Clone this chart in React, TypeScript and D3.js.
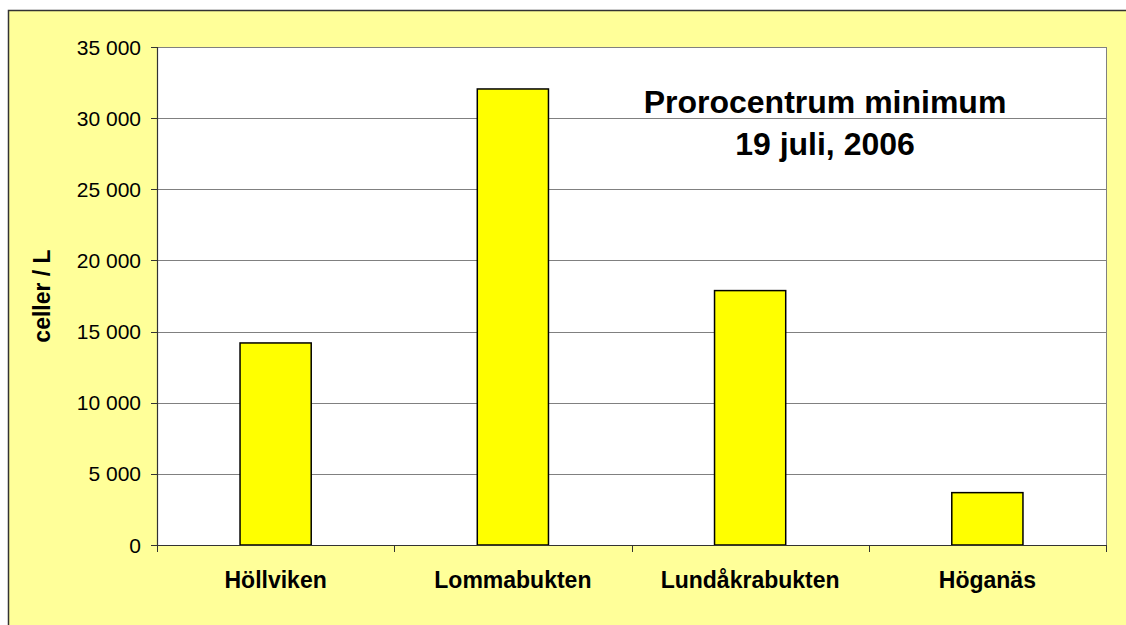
import React from "react";
import * as d3 from "d3";

const categories = ["Höllviken", "Lommabukten", "Lundåkrabukten", "Höganäs"];
const values = [14200, 32050, 17880, 3680];
const yTicks = [0, 5000, 10000, 15000, 20000, 25000, 30000, 35000];
const titleLines = ["Prorocentrum minimum", "19 juli, 2006"];
const yLabel = "celler / L";

const W = 1126;
const H = 625;
const plot = { left: 157, top: 47, right: 1106, bottom: 545 };
const font = "'Liberation Sans', Arial, sans-serif";

const fmt = (v: number) => d3.format(",")(v).replace(/,/g, " ");

export default function App() {
  const x = d3
    .scaleBand<string>()
    .domain(categories)
    .range([plot.left, plot.right])
    .padding(0);
  const y = d3.scaleLinear().domain([0, 35000]).range([plot.bottom, plot.top]);
  const barW = x.bandwidth() * 0.3;
  const bounds = [...categories.map((c) => x(c) as number), plot.right];

  return (
    <svg
      width={W}
      height={H}
      style={{ position: "absolute", left: 0, top: 0, display: "block" }}
    >
      <rect x={0} y={0} width={W} height={H} fill="#ffffff" />
      <rect
        x={8.5}
        y={10.5}
        width={W + 20}
        height={H + 20}
        fill="#FFFF99"
        stroke="#333333"
        strokeWidth={1.5}
      />
      <rect
        x={plot.left}
        y={plot.top}
        width={plot.right - plot.left}
        height={plot.bottom - plot.top}
        fill="#ffffff"
      />
      {yTicks.map((t) => (
        <line
          key={"g" + t}
          x1={plot.left}
          x2={plot.right}
          y1={Math.round(y(t)) + 0.5}
          y2={Math.round(y(t)) + 0.5}
          stroke="#808080"
          strokeWidth={1}
        />
      ))}
      <line
        x1={plot.right + 0.5}
        x2={plot.right + 0.5}
        y1={plot.top}
        y2={plot.bottom}
        stroke="#808080"
        strokeWidth={1}
      />
      {categories.map((c, i) => {
        const cx = (x(c) as number) + x.bandwidth() / 2;
        return (
          <rect
            key={c}
            x={cx - barW / 2}
            y={y(values[i])}
            width={barW}
            height={plot.bottom - y(values[i])}
            fill="#FFFF00"
            stroke="#000000"
            strokeWidth={1.5}
          />
        );
      })}
      <line
        x1={plot.left + 0.5}
        x2={plot.left + 0.5}
        y1={plot.top}
        y2={plot.bottom}
        stroke="#333333"
        strokeWidth={1.2}
      />
      <line
        x1={plot.left}
        x2={plot.right}
        y1={plot.bottom + 0.5}
        y2={plot.bottom + 0.5}
        stroke="#333333"
        strokeWidth={1.2}
      />
      {yTicks.map((t) => (
        <g key={"t" + t}>
          <line
            x1={plot.left - 6}
            x2={plot.left}
            y1={Math.round(y(t)) + 0.5}
            y2={Math.round(y(t)) + 0.5}
            stroke="#333333"
          />
          <text
            x={141}
            y={y(t)}
            dy="0.36em"
            textAnchor="end"
            fontFamily={font}
            fontSize={21}
            fill="#000"
          >
            {fmt(t)}
          </text>
        </g>
      ))}
      {bounds.map((b, i) => (
        <line
          key={"b" + i}
          x1={Math.round(b) + 0.5}
          x2={Math.round(b) + 0.5}
          y1={plot.bottom}
          y2={plot.bottom + 7}
          stroke="#333333"
        />
      ))}
      {categories.map((c) => (
        <text
          key={"l" + c}
          x={(x(c) as number) + x.bandwidth() / 2}
          y={588}
          textAnchor="middle"
          fontFamily={font}
          fontWeight="bold"
          fontSize={23}
          fill="#000"
        >
          {c}
        </text>
      ))}
      <text
        transform={`translate(50, ${(plot.top + plot.bottom) / 2}) rotate(-90)`}
        textAnchor="middle"
        fontFamily={font}
        fontWeight="bold"
        fontSize={23}
        fill="#000"
      >
        {yLabel}
      </text>
      {titleLines.map((l, i) => (
        <text
          key={"tt" + i}
          x={825}
          y={113 + i * 42}
          textAnchor="middle"
          fontFamily={font}
          fontWeight="bold"
          fontSize={32}
          fill="#000"
        >
          {l}
        </text>
      ))}
    </svg>
  );
}
